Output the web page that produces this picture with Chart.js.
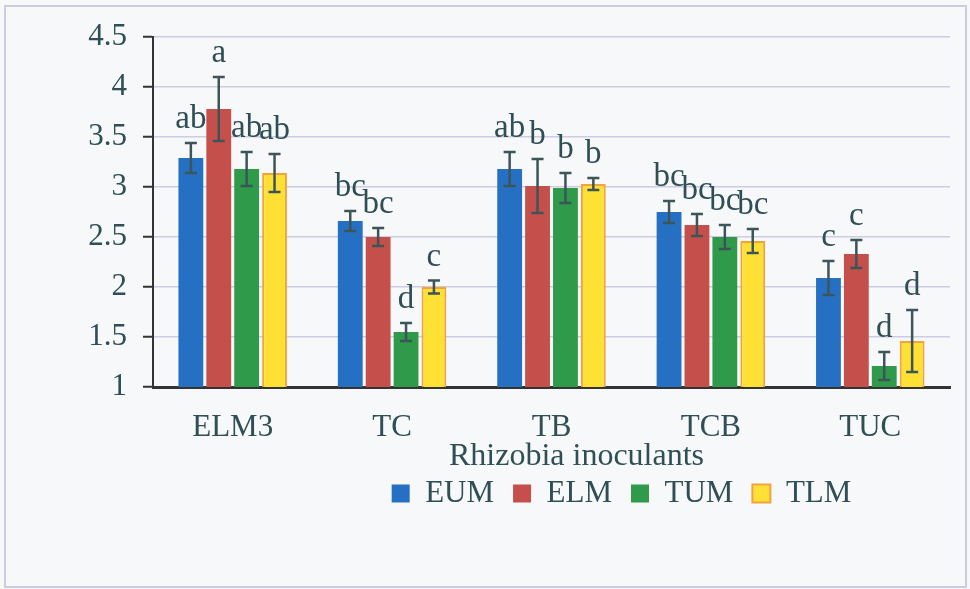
<!DOCTYPE html>
<html>
<head>
<meta charset="utf-8">
<script src="https://cdn.jsdelivr.net/npm/chart.js@4.4.1/dist/chart.umd.min.js"></script>
<style>
  html, body { margin: 0; padding: 0; background: #f6f8fa; }
  #wrap { width: 970px; height: 589px; position: relative; }
</style>
</head>
<body>
<div id="wrap"><canvas id="c"></canvas></div>
<script>
// datos (media ± error) por inoculante
const categories = ['ELM3', 'TC', 'TB', 'TCB', 'TUC'];
const seriesNames = ['EUM', 'ELM', 'TUM', 'TLM'];

const eumVals = [3.29, 2.66, 3.18, 2.75, 2.09];
const elmVals = [3.78, 2.50, 3.01, 2.62, 2.33];
const tumVals = [3.18, 1.55, 2.99, 2.50, 1.21];
const tlmVals = [3.14, 2.00, 3.03, 2.46, 1.46];

const eumErr = [0.15, 0.10, 0.17, 0.11, 0.17];
const elmErr = [0.32, 0.09, 0.27, 0.11, 0.14];
const tumErr = [0.17, 0.09, 0.15, 0.12, 0.14];
const tlmErr = [0.19, 0.065, 0.06, 0.12, 0.31];

const eumLetters = ['ab', 'bc', 'ab', 'bc', 'c'];
const elmLetters = ['a', 'bc', 'b', 'bc', 'c'];
const tumLetters = ['ab', 'd', 'b', 'bc', 'd'];
const tlmLetters = ['ab', 'c', 'b', 'bc', 'd'];

const yTicks = ['1', '1.5', '2', '2.5', '3', '3.5', '4', '4.5'];
const xTitle = 'Rhizobia inoculants';

const TXT = '#2f4f55';
const SERIF = '"Liberation Serif", "DejaVu Serif", serif';

const errs = [eumErr, elmErr, tumErr, tlmErr];
const letters = [eumLetters, elmLetters, tumLetters, tlmLetters];

// barras de error + letras de significancia encima
const errorBars = {
  id: 'errorBars',
  afterDatasetsDraw(chart) {
    const { ctx, scales: { y } } = chart;
    ctx.save();
    chart.data.datasets.forEach((ds, i) => {
      const meta = chart.getDatasetMeta(i);
      meta.data.forEach((bar, j) => {
        const v = ds.data[j], e = errs[i][j];
        const top = y.getPixelForValue(v + e);
        const bot = y.getPixelForValue(v - e);
        ctx.strokeStyle = '#3d5559';
        ctx.lineWidth = 2.5;
        ctx.beginPath();
        ctx.moveTo(bar.x, top); ctx.lineTo(bar.x, bot);
        ctx.moveTo(bar.x - 6, top); ctx.lineTo(bar.x + 6, top);
        ctx.moveTo(bar.x - 6, bot); ctx.lineTo(bar.x + 6, bot);
        ctx.stroke();

        ctx.fillStyle = TXT;
        ctx.font = `33px ${SERIF}`;
        ctx.textAlign = 'center';
        ctx.textBaseline = 'alphabetic';
        ctx.fillText(letters[i][j], bar.x, top - 15);
      });
    });
    ctx.restore();
  },
};

// fondo, marco y título del eje x (desplazado como en el original)
const frame = {
  id: 'frame',
  beforeDraw(chart) {
    const { ctx, width, height } = chart;
    ctx.save();
    ctx.fillStyle = '#f6f8fa';
    ctx.fillRect(0, 0, width, height);
    ctx.strokeStyle = '#cdcbe0';
    ctx.lineWidth = 2;
    ctx.strokeRect(5, 6, width - 9, height - 8);
    ctx.restore();
  },
  afterLayout(chart) {
    // la leyenda del original no está centrada en el lienzo
    const lg = chart.legend;
    const ca = chart.chartArea;
    const dx = (ca.left + ca.right) / 2 + 70 - (lg.left + lg.right) / 2;
    lg.left += dx; lg.right += dx;
  },
  afterDraw(chart) {
    const { ctx, chartArea: ca } = chart;
    ctx.save();
    ctx.fillStyle = TXT;
    ctx.font = `32px ${SERIF}`;
    ctx.textAlign = 'center';
    ctx.textBaseline = 'middle';
    ctx.fillText(xTitle, (ca.left + ca.right) / 2 + 25, ca.bottom + 70);
    ctx.restore();
  },
};

new Chart(document.getElementById('c'), {
  type: 'bar',
  data: {
    labels: categories,
    datasets: [
      { label: seriesNames[0], data: eumVals, backgroundColor: '#2670c4', borderWidth: 0 },
      { label: seriesNames[1], data: elmVals, backgroundColor: '#c5504b', borderWidth: 0 },
      { label: seriesNames[2], data: tumVals, backgroundColor: '#2e9a4a', borderWidth: 0 },
      { label: seriesNames[3], data: tlmVals, backgroundColor: '#ffe135', borderColor: '#f3a23e', borderWidth: 2 },
    ],
  },
  options: {
    responsive: true,
    maintainAspectRatio: false,
    animation: false,
    categoryPercentage: 0.70,
    barPercentage: 0.89,
    layout: { padding: { left: 0, right: 20, top: 37, bottom: 70 } },
    plugins: {
      tooltip: { enabled: false },
      legend: {
        position: 'bottom',
        labels: {
          color: TXT,
          font: { family: SERIF, size: 31 },
          boxWidth: 18,
          boxHeight: 18,
          padding: 19,
        },
      },
    },
    scales: {
      x: {
        grid: { display: false },
        border: { display: true, color: '#333', width: 3 },
        ticks: { color: TXT, font: { family: SERIF, size: 31 }, padding: 14 },
        afterFit: s => { s.height = 72; },
      },
      y: {
        min: 1,
        max: 4.5,
        grid: { color: '#cecbe4', lineWidth: 1.5, tickColor: '#333', tickLength: 10, tickWidth: 2 },
        border: { display: true, color: '#333', width: 2 },
        ticks: {
          stepSize: 0.5,
          color: TXT,
          font: { family: SERIF, size: 31 },
          padding: 16,
          callback: (v, i) => yTicks[i],
        },
        afterFit: s => { s.width = 153; },
      },
    },
  },
  plugins: [frame, errorBars],
});
</script>
</body>
</html>
